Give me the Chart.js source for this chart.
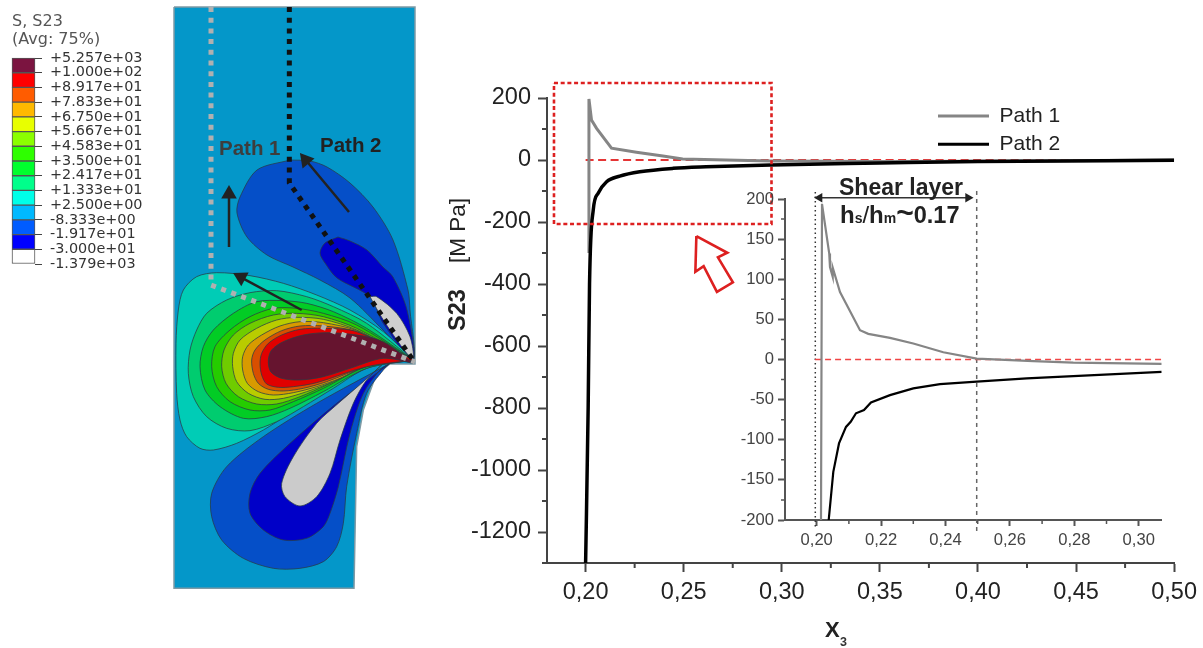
<!DOCTYPE html>
<html>
<head>
<meta charset="utf-8">
<title>S23 along path 1 and path 2</title>
<script src="https://cdn.jsdelivr.net/npm/chart.js@4/dist/chart.umd.min.js"></script>
<style>
    html, body { margin: 0; padding: 0; background: #fff; overflow: hidden; }
    canvas { position: absolute; left: 0; top: 0; filter: blur(0.45px); }
</style>
</head>
<body>
<canvas id="contourChart" width="430" height="648"></canvas>
<canvas id="barChart" width="160" height="648"></canvas>
<canvas id="mainChart" width="1203" height="648"></canvas>
<canvas id="insetChart" width="1203" height="648"></canvas>
<script>
// Main plot: S23 against x3
const mainPath1X = [0.2017, 0.2017, 0.2030, 0.2056, 0.2132, 0.2259, 0.2394, 0.2495, 0.2716, 0.2944, 0.35, 0.40, 0.50];
const mainPath1Y = [-300, 197, 129, 102, 38, 25, 13, 3, 0, -3, -5, -4, 0];
const mainPath2X = [0.2000, 0.2013, 0.2020, 0.2039, 0.2064, 0.2107, 0.2174, 0.2276, 0.2445, 0.2614, 0.2944, 0.35, 0.40, 0.50];
const mainPath2Y = [-1300, -800, -400, -161, -107, -70, -52, -38, -27, -22, -16, -10, -5, -1];
const mainXTicks = [0.20, 0.25, 0.30, 0.35, 0.40, 0.45, 0.50];
const mainXMinor = [0.225, 0.275, 0.325, 0.375, 0.425, 0.475];
const mainYTicks = [200, 0, -200, -400, -600, -800, -1000, -1200];
const mainYMinor = [100, -100, -300, -500, -700, -900, -1100, -1300];

// Red marks over the main plot, in axis units
const zoomBoxX = [0.18388, 0.29476, 0.29476, 0.18388, 0.18388];
const zoomBoxY = [248.6, 248.6, -206.6, -206.6, 248.6];
const zoomArrowX = [0.25646, 0.27223, 0.26745, 0.27508, 0.26694, 0.26017, 0.25595, 0.25646];
const zoomArrowY = [-245.4, -299.3, -314.1, -394.8, -425.2, -342.2, -360.6, -245.4];

// Inset plot
const insetPath1X = [0.20134, 0.20165, 0.2039, 0.20413, 0.20497, 0.20497, 0.20724, 0.21345, 0.21602, 0.22276, 0.23, 0.23932, 0.24969, 0.26727, 0.27969, 0.30714];
const insetPath1Y = [-200, 194, 132, 115, 103, 114.5, 84, 36.5, 32, 27, 20, 9, 1.2, -2, -4, -5.5];
const insetPath2X = [0.20373, 0.20516, 0.20693, 0.2091, 0.21056, 0.2122, 0.21469, 0.21686, 0.22276, 0.23, 0.23829, 0.24969, 0.26522, 0.27969, 0.30714];
const insetPath2Y = [-200, -140, -104.6, -84, -77.6, -67, -63, -53.6, -44.4, -36, -30.7, -27.5, -23.6, -20.8, -15.4];
const insetXTicks = [0.20, 0.22, 0.24, 0.26, 0.28, 0.30];
const insetXMinor = [0.21, 0.23, 0.25, 0.27, 0.29];
const insetYTicks = [200, 150, 100, 50, 0, -50, -100, -150, -200];
const insetYMinor = [175, 125, 75, 25, -25, -75, -125, -175];

// Contour legend
const barLabels = ["+5.257e+03", "+1.000e+02", "+8.917e+01", "+7.833e+01", "+6.750e+01", "+5.667e+01", "+4.583e+01",
    "+3.500e+01", "+2.417e+01", "+1.333e+01", "+2.500e+00", "-8.333e+00", "-1.917e+01", "-3.000e+01", "-1.379e+03"];
const barColors = ["#7b1440", "#ff0000", "#ff5c00", "#ffb900", "#e8ff00", "#8bff00", "#2eff00",
    "#00ff2e", "#00ff8b", "#00ffe8", "#00b9ff", "#005cff", "#0000ff", "#ffffff"];

// Contour outlines in specimen units, [x, y] pairs (3 units = 1 px)
const domainOutline = [[72,-759],[795,-759],[795,312],[720,312],[680,340],[640,450],[620,560],[612,985],[72,985],[72,-759]];
const upperBlue = [[420,-300],[321,-270],[270,-189],[261,-141],[291,-69],[351,-15],[429,21],[510,60],[600,114],[699,210],[789,300],[780,150],[774,90],[729,-60],[669,-159],[600,-231],[531,-279],[480,-297],[420,-300]];
const upperDeep = [[564,-69],[525,-51],[510,-21],[525,9],[561,54],[660,111],[699,189],[789,300],[771,150],[729,51],[699,21],[651,-30],[600,-57],[564,-69]];
const upperGrey = [[660,110],[700,180],[770,280],[790,295],[780,230],[740,160],[680,110],[660,110]];
const lowerBlue = [[720,310],[500,430],[340,530],[230,620],[185,700],[185,770],[215,840],[280,895],[370,925],[450,925],[520,905],[560,860],[580,790],[590,680],[620,520],[650,400],[700,330],[720,310]];
const lowerDeep = [[720,310],[560,430],[420,550],[330,640],[300,700],[300,760],[340,810],[400,840],[470,835],[520,800],[540,760],[565,680],[600,520],[640,400],[690,330],[720,310]];
const lowerGrey = [[700,310],[640,365],[565,430],[500,490],[430,590],[395,670],[405,710],[450,738],[500,710],[540,640],[570,540],[610,430],[650,360],[700,310]];
const band1 = [[790,300],[700,215],[600,150],[500,105],[400,70],[300,47],[200,38],[140,50],[100,90],[85,150],[78,250],[80,400],[90,480],[110,530],[150,565],[190,570],[260,550],[340,510],[420,460],[500,410],[600,350],[700,305],[790,300]];
const band2 = [[790,300],[650,190],[550,140],[470,110],[380,92],[300,98],[230,120],[170,160],[140,210],[120,270],[115,340],[130,410],[170,470],[230,505],[300,512],[380,485],[460,440],[550,385],[650,325],[790,300]];
const band3 = [[790,300],[650,205],[550,155],[470,130],[400,122],[320,125],[250,160],[190,210],[160,260],[150,320],[165,390],[210,440],[280,475],[350,470],[420,445],[520,395],[650,325],[790,300]];
const band4 = [[790,300],[620,195],[520,160],[440,145],[370,145],[300,170],[240,210],[195,260],[185,320],[200,380],[240,425],[300,450],[360,450],[430,425],[520,385],[650,320],[790,300]];
const band5 = [[790,300],[620,205],[520,170],[440,160],[370,165],[300,190],[250,225],[222,270],[215,320],[228,370],[265,410],[320,432],[380,432],[450,410],[530,375],[650,318],[790,300]];
const band6 = [[790,300],[620,210],[520,178],[440,172],[380,180],[320,205],[270,240],[250,280],[248,320],[260,365],[295,400],[345,418],[400,415],[470,395],[550,365],[650,318],[790,300]];
const band7 = [[790,300],[620,212],[520,188],[450,185],[390,198],[335,225],[295,255],[278,290],[278,330],[292,370],[325,395],[370,405],[430,398],[500,380],[570,355],[650,318],[790,300]];
const band8 = [[790,300],[620,215],[520,198],[450,198],[395,212],[345,240],[315,270],[305,300],[310,340],[325,370],[355,388],[400,393],[460,385],[530,365],[650,320],[790,300]];
const band9 = [[790,300],[620,215],[520,205],[450,208],[395,225],[355,250],[335,280],[330,310],[335,345],[350,372],[385,382],[430,380],[500,368],[650,320],[790,300]];
const band10 = [[790,310],[700,245],[620,225],[530,218],[460,225],[400,245],[365,270],[355,300],[362,335],[395,355],[450,360],[520,350],[600,325],[700,295],[790,310]];

// Paths and arrows on the specimen
const greyPath = [[183,-759],[183,75],[795,306]];
const blackPath = [[418,-759],[418,-231],[789,300]];
const arrowUp = [[237,-39],[237,-198]];
const arrowPath2 = [[597,-144],[467,-300]];
const arrowPath1 = [[455,150],[273,52]];

const SANS = '"Liberation Sans", Arial, sans-serif';

const zip = (xs, ys) => xs.map((x, i) => ({ x: x, y: ys[i] }));
const pairs = (list) => list.map((p) => ({ x: p[0], y: p[1] }));
const comma = (v) => Number(v).toFixed(2).replace(".", ",");

// draws free text; a note can hold several runs with their own font
function notesPlugin(notes) {
    return {
        id: "notes",
        afterDraw(chart) {
            const ctx = chart.ctx;
            notes.forEach((n) => {
                ctx.save();
                ctx.translate(n.x, n.y);
                if (n.rotate) ctx.rotate(n.rotate * Math.PI / 180);
                ctx.fillStyle = n.color || "#222";
                ctx.textBaseline = "alphabetic";
                let cx = 0;
                (n.runs || [[n.text, n.font]]).forEach((r) => {
                    ctx.font = r[1];
                    ctx.fillText(r[0], cx, 0);
                    cx += ctx.measureText(r[0]).width;
                });
                ctx.restore();
            });
        },
    };
}

// Chart.js has no minor ticks, so they are added from the scales
function minorTicksPlugin(xValues, yValues, len, width, color) {
    return {
        id: "minorTicks",
        afterDraw(chart) {
            const ctx = chart.ctx;
            const xs = chart.scales.x, ys = chart.scales.y;
            ctx.save();
            ctx.strokeStyle = color;
            ctx.lineWidth = width;
            ctx.beginPath();
            xValues.forEach((v) => {
                const px = xs.getPixelForValue(v);
                ctx.moveTo(px, ys.bottom);
                ctx.lineTo(px, ys.bottom + len);
            });
            yValues.forEach((v) => {
                const py = ys.getPixelForValue(v);
                ctx.moveTo(xs.left, py);
                ctx.lineTo(xs.left - len, py);
            });
            ctx.stroke();
            ctx.restore();
        },
    };
}

function axis(min, max, values, size, tickLen, padding, font, color, format) {
    return {
        type: "linear",
        min: min,
        max: max,
        afterBuildTicks: (s) => { s.ticks = values.map((v) => ({ value: v })); },
        afterFit: (s) => { if (s.isHorizontal()) s.height = size; else s.width = size; },
        grid: { drawOnChartArea: false, tickLength: tickLen, tickWidth: 2, tickColor: color },
        border: { color: color, width: 2 },
        ticks: {
            autoSkip: false,
            maxRotation: 0,
            padding: padding,
            color: font.color,
            font: { family: SANS, size: font.size },
            callback: format,
        },
    };
}

const baseOptions = { responsive: false, animation: false, events: [] };

// Contour plot
const contourFills = [
    [domainOutline, "#0497c9"],
    [upperBlue, "#054fc8"], [upperDeep, "#0000c8"], [upperGrey, "#cfcfcf"],
    [lowerBlue, "#054fc8"], [lowerDeep, "#0000c8"], [lowerGrey, "#cbcbcb"],
    [band1, "#00ccb6"], [band2, "#00cc6f"], [band3, "#02cc25"], [band4, "#25cc00"], [band5, "#6fcc00"],
    [band6, "#b9cc00"], [band7, "#d89a00"], [band8, "#d84f00"], [band9, "#e00000"], [band10, "#66142f"],
];
const contourSets = contourFills.map((c, i) => ({
    data: pairs(c[0]),
    showLine: true,
    fill: "shape",
    backgroundColor: c[1],
    borderColor: i === 0 ? "#7f9aa5" : "rgba(40,60,70,0.75)",
    borderWidth: i === 0 ? 1.5 : 1,
    tension: i === 0 ? 0 : 0.3,
    pointRadius: 0,
    order: 100 - i,
}));
const pathSet = (list, color) => ({
    data: pairs(list), showLine: true, borderColor: color, borderWidth: 5, borderDash: [5, 5.7], pointRadius: 0, order: 5,
});
const arrowSet = (list, angle) => ({
    data: pairs(list), showLine: true, borderColor: "#222", borderWidth: 2.5,
    pointStyle: "triangle", pointRadius: [0, 9], pointRotation: angle, pointBackgroundColor: "#222", pointBorderWidth: 0, order: 1,
});

new Chart(document.getElementById("contourChart"), {
    type: "scatter",
    data: {
        datasets: contourSets.concat([
            pathSet(greyPath, "#b0b0b0"),
            pathSet(blackPath, "#111"),
            arrowSet(arrowUp, 0),
            arrowSet(arrowPath2, -39.7),
            arrowSet(arrowPath1, -61.8),
        ]),
    },
    options: {
        ...baseOptions,
        layout: { padding: 0, autoPadding: false },
        plugins: { legend: { display: false }, tooltip: { enabled: false } },
        scales: {
            x: { type: "linear", display: false, min: -450, max: 840 },
            y: { type: "linear", display: false, min: -780, max: 1164, reverse: true },
        },
    },
    plugins: [notesPlugin([
        { text: "Path 1", x: 219, y: 155, font: "bold 20.5px " + SANS, color: "#3d3d3d" },
        { text: "Path 2", x: 320, y: 152, font: "bold 20.5px " + SANS, color: "#222" },
    ])],
});

// Contour legend, one stacked bar with a cell per level
new Chart(document.getElementById("barChart"), {
    type: "bar",
    data: {
        labels: [""],
        datasets: barColors.slice().reverse().map((c) => ({
            data: [1],
            backgroundColor: c,
            borderColor: "#555",
            borderWidth: 1,
            borderSkipped: false,
            barPercentage: 1,
            categoryPercentage: 1,
            clip: false,
        })),
    },
    options: {
        ...baseOptions,
        layout: { padding: { left: 12, top: 58, bottom: 384, right: 0 } },
        plugins: { legend: { display: false }, tooltip: { enabled: false } },
        scales: {
            x: { stacked: true, display: false },
            y: {
                stacked: true,
                position: "right",
                min: 0,
                max: 14,
                afterFit: (s) => { s.width = 125; },
                grid: { drawOnChartArea: false, tickLength: 7, tickColor: "#444", tickWidth: 1 },
                border: { display: false },
                ticks: {
                    stepSize: 1,
                    autoSkip: false,
                    padding: 8,
                    color: "#333",
                    font: { family: '"DejaVu Sans"', size: 14.4 },
                    callback: (v) => barLabels[14 - v],
                },
            },
        },
    },
    plugins: [notesPlugin([
        { text: "S, S23", x: 12, y: 26, font: '16px "DejaVu Sans"', color: "#555" },
        { text: "(Avg: 75%)", x: 12, y: 44, font: '16px "DejaVu Sans"', color: "#555" },
    ])],
});

// Main plot
new Chart(document.getElementById("mainChart"), {
    type: "scatter",
    data: {
        datasets: [
            { label: "Path 2", data: zip(mainPath2X, mainPath2Y), showLine: true, borderColor: "#000", borderWidth: 3.5, cubicInterpolationMode: "monotone", pointRadius: 0, order: 1 },
            { label: "Path 1", data: zip(mainPath1X, mainPath1Y), showLine: true, borderColor: "#858585", borderWidth: 3, pointRadius: 0, order: 2 },
            { label: "zero", data: zip([0.2, 0.5], [0, 0]), showLine: true, borderColor: "#e53535", borderWidth: 2, borderDash: [8, 4.5], pointRadius: 0, order: 3 },
            { label: "box", data: zip(zoomBoxX, zoomBoxY), showLine: true, borderColor: "#dd2020", borderWidth: 2.6, borderDash: [4, 2.7], pointRadius: 0, clip: false, order: 0 },
            { label: "arrow", data: zip(zoomArrowX, zoomArrowY), showLine: true, borderColor: "#dd2020", borderWidth: 2.6, pointRadius: 0, order: 0 },
        ],
    },
    options: {
        ...baseOptions,
        layout: { padding: { left: 0, top: 98, right: 27, bottom: 0 } },
        plugins: {
            tooltip: { enabled: false },
            legend: {
                position: "chartArea",
                align: "start",
                labels: {
                    boxWidth: 51,
                    boxHeight: 3,
                    padding: 7.3,
                    color: "#222",
                    font: { family: SANS, size: 21 },
                    generateLabels: () => [
                        { text: "Path 1", fillStyle: "#858585", strokeStyle: "#858585", lineWidth: 0, fontColor: "#222" },
                        { text: "Path 2", fillStyle: "#000", strokeStyle: "#000", lineWidth: 0, fontColor: "#222" },
                    ],
                },
            },
        },
        scales: {
            x: axis(0.18032, 0.5, mainXTicks, 85, 9, 6, { size: 23.5, color: "#222" }, "#444", comma),
            y: axis(-1300, 200, mainYTicks, 547, 9, 7, { size: 23.5, color: "#222" }, "#444", (v) => String(v)),
        },
    },
    plugins: [
        {
            id: "legendPlace",
            afterLayout(chart) {
                chart.legend.left = 930.7;
                chart.legend.top = 98.2;
            },
        },
        minorTicksPlugin(mainXMinor, mainYMinor, 5, 2, "#444"),
        notesPlugin([
            { text: "S23", x: 465, y: 331, rotate: -90, font: "bold 23.5px " + SANS, color: "#222" },
            { text: "[M Pa]", x: 465, y: 263, rotate: -90, font: "22.5px " + SANS, color: "#222" },
            { text: "X", x: 825, y: 637, font: "bold 22px " + SANS, color: "#222" },
            { text: "3", x: 840, y: 646, font: "bold 12.5px " + SANS, color: "#333" },
        ]),
    ],
});

// Inset
new Chart(document.getElementById("insetChart"), {
    type: "scatter",
    data: {
        datasets: [
            { data: zip(insetPath2X, insetPath2Y), showLine: true, borderColor: "#000", borderWidth: 2.2, pointRadius: 0, order: 1 },
            { data: zip(insetPath1X, insetPath1Y), showLine: true, borderColor: "#858585", borderWidth: 2.2, pointRadius: 0, order: 2 },
            { data: zip([0.1995, 0.30714], [0, 0]), showLine: true, borderColor: "#f04545", borderWidth: 1.5, borderDash: [6, 4], pointRadius: 0, order: 3 },
            { data: zip([0.19957, 0.19957], [208.6, -209]), showLine: true, borderColor: "#333", borderWidth: 1.5, borderDash: [1.5, 3], pointRadius: 0, clip: false, order: 4 },
            { data: zip([0.24969, 0.24969], [210, -216]), showLine: true, borderColor: "#666", borderWidth: 1.5, borderDash: [4, 4], pointRadius: 0, clip: false, order: 4 },
            {
                data: zip([0.2009, 0.2470], [201.5, 201.5]),
                showLine: true, borderColor: "#333", borderWidth: 1.5, clip: false, order: 0,
                pointStyle: "triangle", pointRadius: 5.5, pointRotation: [-90, 90], pointBackgroundColor: "#222", pointBorderWidth: 0,
            },
        ],
    },
    options: {
        ...baseOptions,
        layout: { padding: { left: 0, top: 199, right: 41.3, bottom: 0 } },
        plugins: { legend: { display: false }, tooltip: { enabled: false } },
        scales: {
            x: axis(0.19016, 0.30714, insetXTicks, 128, 6, 4, { size: 16.6, color: "#444" }, "#555", comma),
            y: axis(-200, 200, insetYTicks, 785, 7, 4, { size: 16.6, color: "#444" }, "#555", (v) => String(v)),
        },
    },
    plugins: [
        minorTicksPlugin(insetXMinor, insetYMinor, 4, 1.5, "#555"),
        notesPlugin([
            { text: "Shear layer", x: 839, y: 195, font: "bold 23px " + SANS, color: "#222" },
            {
                x: 840, y: 223, color: "#222",
                runs: [
                    ["h", "bold 24px " + SANS], ["s", "bold 14px " + SANS], ["/", "24px " + SANS],
                    ["h", "bold 24px " + SANS], ["m", "bold 14px " + SANS], ["~", "bold 30px " + SANS],
                    ["0.17", "bold 23.5px " + SANS],
                ],
            },
        ]),
    ],
});
</script>
</body>
</html>
